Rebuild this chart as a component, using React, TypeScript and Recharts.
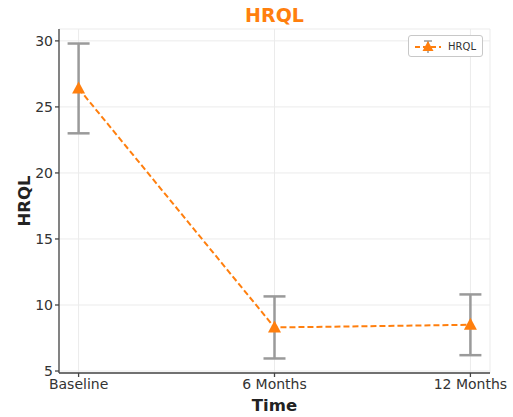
import React from 'react'
import { LineChart, Line, XAxis, YAxis, CartesianGrid, ErrorBar } from 'recharts'

const timepoints = ['Baseline', '6 Months', '12 Months']
const hrqlMean = [26.4, 8.3, 8.5]
const hrqlErr = [3.4, 2.35, 2.3]

const ORANGE = '#ff7f0e'
const FONT = '"DejaVu Sans", sans-serif'

const data = timepoints.map((t, i) => ({ x: i, label: t, hrql: hrqlMean[i], err: hrqlErr[i] }))

function TriangleDot(props: any) {
  const { cx, cy } = props
  if (cx == null || cy == null) return null
  return <path d={`M${cx},${cy - 7} L${cx + 6.5},${cy + 5} L${cx - 6.5},${cy + 5} Z`} fill={ORANGE} />
}

function LegendBox() {
  return (
    <div
      style={{
        position: 'absolute',
        top: 35,
        right: 30,
        display: 'flex',
        alignItems: 'center',
        border: '1px solid #c8c8c8',
        borderRadius: 3,
        background: '#fff',
        padding: '2px 6px 2px 5px',
        fontFamily: FONT,
        fontSize: 10,
        color: '#333',
      }}
    >
      <svg width={28} height={16} style={{ marginRight: 6 }}>
        <line x1={1} y1={9} x2={27} y2={9} stroke={ORANGE} strokeWidth={2} strokeDasharray="5 3" />
        <line x1={14} y1={3} x2={14} y2={15} stroke="#999" strokeWidth={1.5} />
        <line x1={10} y1={3} x2={18} y2={3} stroke="#999" strokeWidth={1.5} />
        <path d="M14,3 L19.5,13 L8.5,13 Z" fill={ORANGE} />
      </svg>
      HRQL
    </div>
  )
}

export default function App() {
  return (
    <div style={{ position: 'absolute', left: 0, top: 0, width: 513, height: 417, background: '#fff' }}>
      <div
        style={{
          position: 'absolute',
          top: 4,
          left: 59,
          width: 431,
          textAlign: 'center',
          fontFamily: FONT,
          fontWeight: 'bold',
          fontSize: 19,
          color: ORANGE,
        }}
      >
        HRQL
      </div>
      <LineChart width={513} height={417} data={data} margin={{ top: 29, right: 23, left: 0, bottom: 0 }}>
        <CartesianGrid stroke="#ebebeb" strokeWidth={1} />
        <XAxis
          dataKey="x"
          type="number"
          domain={[-0.1, 2.1]}
          ticks={[0, 1, 2]}
          tickFormatter={(v: number) => timepoints[v]}
          height={44}
          stroke="#444"
          strokeWidth={1.3}
          tickSize={4}
          tick={{ fill: '#333', fontSize: 14, fontFamily: FONT }}
          label={{ value: 'Time', position: 'insideBottom', offset: 6, fill: '#222', fontSize: 16.5, fontWeight: 'bold', fontFamily: FONT }}
        />
        <YAxis
          type="number"
          domain={[4.85, 30.9]}
          ticks={[5, 10, 15, 20, 25, 30]}
          width={59}
          stroke="#444"
          strokeWidth={1.3}
          tickSize={4}
          tick={{ fill: '#333', fontSize: 14, fontFamily: FONT }}
          label={{ value: 'HRQL', angle: -90, position: 'center', dx: -5, fill: '#222', fontSize: 16.5, fontWeight: 'bold', fontFamily: FONT }}
        />
        <Line
          type="linear"
          dataKey="hrql"
          name="HRQL"
          stroke={ORANGE}
          strokeWidth={2}
          strokeDasharray="6 3"
          dot={<TriangleDot />}
          activeDot={false}
          isAnimationActive={false}
        >
          <ErrorBar dataKey="err" direction="y" width={11} stroke="#9a9a9a" strokeWidth={2.5} />
        </Line>
      </LineChart>
      <LegendBox />
    </div>
  )
}
